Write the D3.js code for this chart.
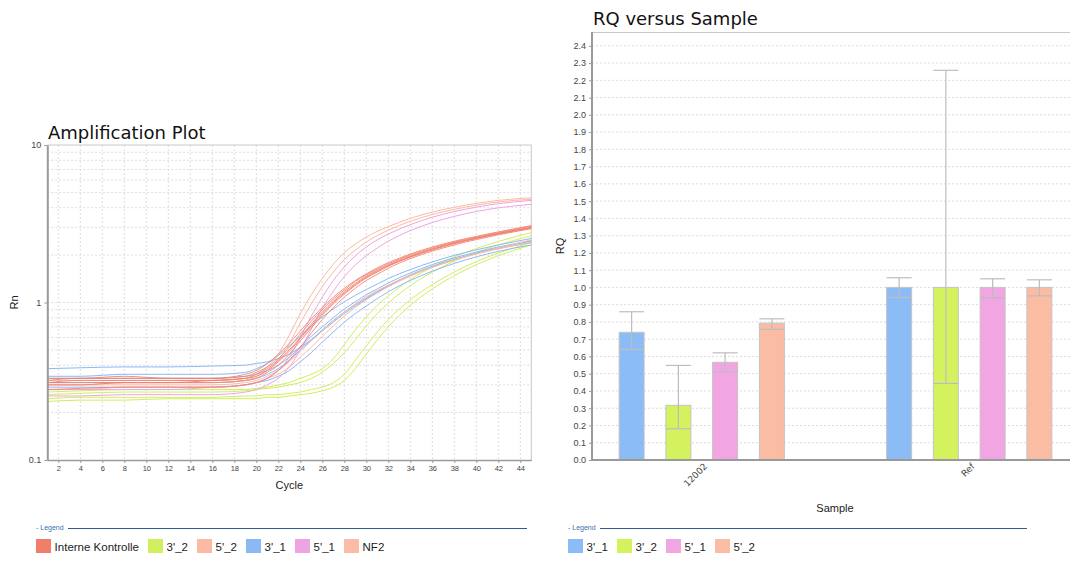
<!DOCTYPE html>
<html>
<head>
<meta charset="utf-8">
<script src="https://cdn.jsdelivr.net/npm/d3@7"></script>
<style>
  body { margin: 0; background: #fff; }
  svg { display: block; font-family: "DejaVu Sans", sans-serif; }
  .grid line { stroke: #dcdcdc; stroke-width: 1; stroke-dasharray: 2,2; }
  .axis path, .axis line { stroke: #9a9a9a; }
  .axis text { fill: #444; }
  .axis-label { font-family: "Liberation Sans", Arial, sans-serif; font-size: 11px; fill: #222; }
  .title { font-size: 18px; fill: #111; }
  .legend text { font-family: "Liberation Sans", Arial, sans-serif; font-size: 11.5px; fill: #222; }
</style>
</head>
<body>
<svg id="chart" width="1070" height="581"></svg>
<script>
// ---- amplification data (Rn read at these cycles) ----
const CYCLES = [1, 4, 8, 12, 16, 19, 20, 21, 22, 23, 24, 25, 26, 27, 28, 29, 30, 31, 32, 34, 36, 38, 40, 42, 45];
const CYCLE_TICKS = [2, 4, 6, 8, 10, 12, 14, 16, 18, 20, 22, 24, 26, 28, 30, 32, 34, 36, 38, 40, 42, 44];
const RN_TICKS = [0.1, 1, 10];

const RN_INTERNE = [
  [0.33, 0.33, 0.34, 0.33, 0.33, 0.34, 0.36, 0.39, 0.44, 0.52, 0.63, 0.76, 0.90, 1.05, 1.20, 1.36, 1.50, 1.63, 1.76, 2.00, 2.22, 2.42, 2.60, 2.78, 3.05],
  [0.31, 0.32, 0.32, 0.32, 0.32, 0.33, 0.35, 0.38, 0.43, 0.50, 0.60, 0.73, 0.87, 1.02, 1.17, 1.32, 1.47, 1.60, 1.73, 1.97, 2.19, 2.39, 2.57, 2.75, 3.00],
  [0.30, 0.30, 0.31, 0.31, 0.31, 0.32, 0.33, 0.36, 0.40, 0.47, 0.57, 0.69, 0.83, 0.98, 1.13, 1.28, 1.43, 1.56, 1.70, 1.94, 2.16, 2.36, 2.55, 2.72, 2.98],
  [0.32, 0.33, 0.33, 0.33, 0.33, 0.35, 0.37, 0.41, 0.47, 0.55, 0.66, 0.79, 0.93, 1.08, 1.23, 1.38, 1.52, 1.66, 1.79, 2.03, 2.25, 2.45, 2.63, 2.81, 3.08],
  [0.28, 0.285, 0.29, 0.29, 0.29, 0.30, 0.31, 0.33, 0.37, 0.43, 0.52, 0.64, 0.78, 0.93, 1.08, 1.23, 1.38, 1.51, 1.65, 1.90, 2.12, 2.32, 2.51, 2.69, 2.94],
  [0.31, 0.31, 0.31, 0.31, 0.32, 0.33, 0.34, 0.37, 0.42, 0.49, 0.59, 0.71, 0.85, 1.00, 1.15, 1.30, 1.45, 1.58, 1.71, 1.95, 2.17, 2.38, 2.56, 2.74, 2.99]
];
const RN_3_2 = [
  [0.235, 0.24, 0.24, 0.245, 0.245, 0.245, 0.245, 0.25, 0.25, 0.255, 0.26, 0.265, 0.275, 0.29, 0.32, 0.38, 0.47, 0.58, 0.70, 0.96, 1.22, 1.48, 1.74, 1.98, 2.32],
  [0.245, 0.25, 0.25, 0.25, 0.25, 0.255, 0.255, 0.26, 0.26, 0.265, 0.27, 0.28, 0.29, 0.31, 0.35, 0.43, 0.53, 0.65, 0.78, 1.04, 1.30, 1.56, 1.82, 2.06, 2.40],
  [0.27, 0.275, 0.28, 0.28, 0.28, 0.28, 0.285, 0.29, 0.30, 0.31, 0.33, 0.35, 0.38, 0.44, 0.54, 0.67, 0.81, 0.96, 1.10, 1.40, 1.68, 1.95, 2.20, 2.44, 2.78],
  [0.26, 0.265, 0.27, 0.27, 0.27, 0.275, 0.28, 0.285, 0.29, 0.30, 0.31, 0.33, 0.36, 0.41, 0.48, 0.58, 0.71, 0.85, 0.99, 1.28, 1.56, 1.83, 2.08, 2.32, 2.65]
];
const RN_5_2 = [
  [0.32, 0.32, 0.32, 0.32, 0.32, 0.33, 0.35, 0.39, 0.47, 0.62, 0.85, 1.12, 1.42, 1.75, 2.07, 2.35, 2.60, 2.83, 3.03, 3.42, 3.75, 4.02, 4.26, 4.45, 4.62],
  [0.30, 0.30, 0.31, 0.31, 0.31, 0.32, 0.34, 0.37, 0.43, 0.55, 0.74, 0.98, 1.26, 1.56, 1.87, 2.15, 2.42, 2.66, 2.88, 3.28, 3.62, 3.90, 4.15, 4.35, 4.52]
];
const RN_3_1 = [
  [0.38, 0.385, 0.39, 0.39, 0.395, 0.40, 0.41, 0.42, 0.44, 0.47, 0.52, 0.58, 0.66, 0.75, 0.85, 0.95, 1.05, 1.16, 1.27, 1.48, 1.68, 1.87, 2.05, 2.22, 2.45],
  [0.34, 0.34, 0.35, 0.35, 0.35, 0.36, 0.38, 0.41, 0.46, 0.53, 0.61, 0.71, 0.81, 0.91, 1.01, 1.11, 1.21, 1.31, 1.42, 1.62, 1.81, 1.99, 2.16, 2.32, 2.55],
  [0.31, 0.31, 0.31, 0.31, 0.31, 0.32, 0.33, 0.35, 0.38, 0.43, 0.50, 0.58, 0.67, 0.77, 0.87, 0.97, 1.07, 1.17, 1.28, 1.50, 1.70, 1.88, 2.05, 2.20, 2.40],
  [0.29, 0.29, 0.29, 0.29, 0.29, 0.30, 0.31, 0.32, 0.34, 0.37, 0.42, 0.48, 0.56, 0.65, 0.75, 0.85, 0.95, 1.06, 1.17, 1.38, 1.58, 1.77, 1.95, 2.11, 2.32],
  [0.33, 0.33, 0.33, 0.33, 0.33, 0.34, 0.35, 0.37, 0.40, 0.45, 0.52, 0.61, 0.70, 0.80, 0.91, 1.01, 1.12, 1.22, 1.33, 1.54, 1.74, 1.92, 2.09, 2.25, 2.47]
];
const RN_5_1 = [
  [0.28, 0.28, 0.28, 0.28, 0.29, 0.30, 0.31, 0.33, 0.37, 0.45, 0.60, 0.82, 1.08, 1.38, 1.68, 1.98, 2.25, 2.50, 2.72, 3.12, 3.48, 3.78, 4.03, 4.24, 4.45],
  [0.255, 0.255, 0.26, 0.26, 0.26, 0.27, 0.28, 0.30, 0.33, 0.39, 0.50, 0.68, 0.92, 1.18, 1.46, 1.73, 1.98, 2.22, 2.45, 2.86, 3.22, 3.52, 3.78, 3.99, 4.20]
];
const RN_NF2 = [
  [0.30, 0.30, 0.30, 0.30, 0.30, 0.31, 0.32, 0.34, 0.37, 0.42, 0.49, 0.57, 0.66, 0.76, 0.87, 0.98, 1.09, 1.19, 1.29, 1.49, 1.68, 1.86, 2.03, 2.19, 2.42],
  [0.28, 0.28, 0.29, 0.29, 0.29, 0.30, 0.31, 0.33, 0.35, 0.39, 0.45, 0.52, 0.61, 0.71, 0.82, 0.93, 1.04, 1.15, 1.26, 1.47, 1.67, 1.86, 2.04, 2.22, 2.50]
];

const AMP_NAMES = ['Interne Kontrolle', "3'_2", "5'_2", "3'_1", "5'_1", 'NF2'];
const AMP_COLORS = ['#f17e6b', '#d0ef5e', '#fbbaa3', '#8cb9f4', '#f0a3e1', '#fbbca5'];
const AMP_CURVES = [RN_INTERNE, RN_3_2, RN_5_2, RN_3_1, RN_5_1, RN_NF2];
// order in which the curve groups are stacked (red bundle on top)
const DRAW_ORDER = [1, 3, 5, 4, 2, 0];

// ---- RQ data ----
const SAMPLES = ['12002', 'Ref'];
const TARGETS = ["3'_1", "3'_2", "5'_1", "5'_2"];
const TARGET_COLORS = ['#8cbcf6', '#d3f25e', '#f2a5e3', '#fbbca4'];
const RQ_12002 = [0.74, 0.317, 0.566, 0.793];
const RQ_MIN_12002 = [0.641, 0.181, 0.511, 0.757];
const RQ_MAX_12002 = [0.859, 0.548, 0.621, 0.818];
const RQ_REF = [1.0, 1.0, 1.0, 1.0];
const RQ_MIN_REF = [0.942, 0.444, 0.94, 0.951];
const RQ_MAX_REF = [1.056, 2.258, 1.05, 1.044];

const svg = d3.select('#chart');

// legend strip under a chart
function drawLegend(x0, lineEnd, names, colors) {
  const lg = svg.append('g').attr('class', 'legend');
  lg.append('text')
    .attr('x', x0).attr('y', 530)
    .style('font-size', '7px').style('fill', '#3b6fae')
    .text('- Legend');
  lg.append('line')
    .attr('x1', x0 + 32).attr('x2', lineEnd)
    .attr('y1', 528.5).attr('y2', 528.5)
    .attr('stroke', '#2f5b8d').attr('stroke-width', 1);

  let cx = x0;
  names.forEach((name, i) => {
    lg.append('rect')
      .attr('x', cx).attr('y', 539)
      .attr('width', 15).attr('height', 14)
      .attr('fill', colors[i]);
    const t = lg.append('text')
      .attr('x', cx + 18.6).attr('y', 550.5)
      .text(name);
    cx += 18.6 + t.node().getComputedTextLength() + 9;
  });
}

// ================= Amplification Plot =================
const amp = { left: 47.3, right: 531.3, top: 145, bottom: 460 };

const xCycle = d3.scaleLinear().domain([1, 45]).range([amp.left, amp.right]);
const yRn = d3.scaleLog().domain([0.1, 10]).range([amp.bottom, amp.top]);

const ampG = svg.append('g');

// grid
const ampGrid = ampG.append('g').attr('class', 'grid');
ampGrid.selectAll('line.v')
  .data(CYCLE_TICKS)
  .join('line')
  .attr('x1', d => xCycle(d)).attr('x2', d => xCycle(d))
  .attr('y1', amp.top).attr('y2', amp.bottom);
ampGrid.selectAll('line.h')
  .data(yRn.ticks().filter(d => d > 0.1 && d < 10))
  .join('line')
  .attr('x1', amp.left).attr('x2', amp.right)
  .attr('y1', d => yRn(d)).attr('y2', d => yRn(d));

// frame top / right
ampG.append('path')
  .attr('d', `M${amp.left},${amp.top}H${amp.right}V${amp.bottom}`)
  .attr('fill', 'none').attr('stroke', '#c8c8c8');

// curves
const line = d3.line()
  .x(d => xCycle(d[0]))
  .y(d => yRn(d[1]))
  .curve(d3.curveMonotoneX);

DRAW_ORDER.forEach(k => {
  ampG.append('g')
    .selectAll('path')
    .data(AMP_CURVES[k])
    .join('path')
    .attr('d', rn => line(CYCLES.map((c, i) => [c, rn[i]])))
    .attr('fill', 'none')
    .attr('stroke', AMP_COLORS[k])
    .attr('stroke-opacity', k === 0 ? 0.85 : 1)
    .attr('stroke-width', 1);
});

// axes
ampG.append('g')
  .attr('class', 'axis')
  .attr('transform', `translate(0,${amp.bottom})`)
  .call(d3.axisBottom(xCycle).tickValues(CYCLE_TICKS).tickSize(3).tickSizeOuter(0).tickPadding(3))
  .call(g => g.selectAll('text').style('font-size', '7.5px'))
  .call(g => g.select('.domain').attr('stroke-width', 1.5));

ampG.append('g')
  .attr('class', 'axis')
  .attr('transform', `translate(${amp.left},0)`)
  .call(d3.axisLeft(yRn).tickValues(RN_TICKS).tickFormat(d3.format('~g')).tickSize(3).tickSizeOuter(0))
  .call(g => g.selectAll('text').style('font-size', '9px'))
  .call(g => g.select('.domain').attr('stroke-width', 2));

ampG.append('text')
  .attr('class', 'title')
  .attr('x', 48).attr('y', 139)
  .text('Amplification Plot');

ampG.append('text')
  .attr('class', 'axis-label')
  .attr('x', (amp.left + amp.right) / 2).attr('y', 489)
  .attr('text-anchor', 'middle')
  .text('Cycle');

ampG.append('text')
  .attr('class', 'axis-label')
  .attr('transform', `translate(18,${(amp.top + amp.bottom) / 2}) rotate(-90)`)
  .attr('text-anchor', 'middle')
  .text('Rn');

drawLegend(36, 527, AMP_NAMES, AMP_COLORS);

// ================= RQ versus Sample =================
const rq = { left: 592, right: 1070, top: 32, bottom: 460 };

const rqRows = SAMPLES.map((s, si) => ({
  sample: s,
  bars: TARGETS.map((t, ti) => ({
    target: t,
    color: TARGET_COLORS[ti],
    value: si === 0 ? RQ_12002[ti] : RQ_REF[ti],
    lo: si === 0 ? RQ_MIN_12002[ti] : RQ_MIN_REF[ti],
    hi: si === 0 ? RQ_MAX_12002[ti] : RQ_MAX_REF[ti]
  }))
}));

const yRQ = d3.scaleLinear().domain([0, 2.48]).range([rq.bottom, rq.top]);
const xSample = d3.scaleBand().domain(SAMPLES).range([568, 1103]);
const groupW = 187;
const xTarget = d3.scaleBand().domain(TARGETS).range([0, groupW])
  .paddingInner(0.465).paddingOuter(0.2325);

const rqG = svg.append('g');

rqG.append('g').attr('class', 'grid')
  .selectAll('line')
  .data(yRQ.ticks(25).filter(d => d > 0))
  .join('line')
  .attr('x1', rq.left).attr('x2', rq.right)
  .attr('y1', d => yRQ(d)).attr('y2', d => yRQ(d));

rqG.append('line')
  .attr('x1', rq.left).attr('x2', rq.right)
  .attr('y1', rq.top + 0.5).attr('y2', rq.top + 0.5)
  .attr('stroke', '#c8c8c8');

const groups = rqG.selectAll('g.sample')
  .data(rqRows)
  .join('g')
  .attr('class', 'sample')
  .attr('transform', d => `translate(${xSample(d.sample) + xSample.bandwidth() / 2 - groupW / 2},0)`);

groups.selectAll('rect')
  .data(d => d.bars)
  .join('rect')
  .attr('x', d => xTarget(d.target))
  .attr('y', d => yRQ(d.value))
  .attr('width', xTarget.bandwidth())
  .attr('height', d => yRQ(0) - yRQ(d.value))
  .attr('fill', d => d.color)
  .attr('stroke', '#c4c4c4')
  .attr('stroke-width', 1);

// error bars
const err = groups.selectAll('g.err')
  .data(d => d.bars)
  .join('g')
  .attr('class', 'err')
  .attr('stroke', '#bdbdbd')
  .attr('stroke-width', 1.2);

err.append('line')
  .attr('x1', d => xTarget(d.target) + xTarget.bandwidth() / 2)
  .attr('x2', d => xTarget(d.target) + xTarget.bandwidth() / 2)
  .attr('y1', d => yRQ(d.hi)).attr('y2', d => yRQ(d.lo));
err.append('line')
  .attr('x1', d => xTarget(d.target)).attr('x2', d => xTarget(d.target) + xTarget.bandwidth())
  .attr('y1', d => yRQ(d.hi)).attr('y2', d => yRQ(d.hi));
err.append('line')
  .attr('x1', d => xTarget(d.target)).attr('x2', d => xTarget(d.target) + xTarget.bandwidth())
  .attr('y1', d => yRQ(d.lo)).attr('y2', d => yRQ(d.lo));

// axes
rqG.append('g')
  .attr('class', 'axis')
  .attr('transform', `translate(${rq.left},0)`)
  .call(d3.axisLeft(yRQ).ticks(25).tickFormat(d3.format('.1f')).tickSize(3).tickSizeOuter(0))
  .call(g => g.selectAll('text').style('font-size', '9px'))
  .call(g => g.select('.domain').attr('d', `M0,${rq.top}V${rq.bottom}`).attr('stroke-width', 2));

rqG.append('line')
  .attr('x1', rq.left).attr('x2', rq.right)
  .attr('y1', rq.bottom).attr('y2', rq.bottom)
  .attr('stroke', '#9a9a9a').attr('stroke-width', 2);

rqG.selectAll('text.sample-label')
  .data(SAMPLES)
  .join('text')
  .attr('class', 'sample-label')
  .attr('transform', d => `translate(${xSample(d) + xSample.bandwidth() / 2 + 6},467) rotate(-45)`)
  .attr('text-anchor', 'end')
  .style('font-size', '9px')
  .style('fill', '#444')
  .text(d => d);

rqG.append('text')
  .attr('class', 'title')
  .attr('x', 593).attr('y', 25)
  .text('RQ versus Sample');

rqG.append('text')
  .attr('class', 'axis-label')
  .attr('x', 835).attr('y', 512)
  .attr('text-anchor', 'middle')
  .text('Sample');

rqG.append('text')
  .attr('class', 'axis-label')
  .attr('transform', `translate(564,${(rq.top + rq.bottom) / 2}) rotate(-90)`)
  .attr('text-anchor', 'middle')
  .text('RQ');

drawLegend(568, 1027, TARGETS, TARGET_COLORS);
</script>
</body>
</html>
